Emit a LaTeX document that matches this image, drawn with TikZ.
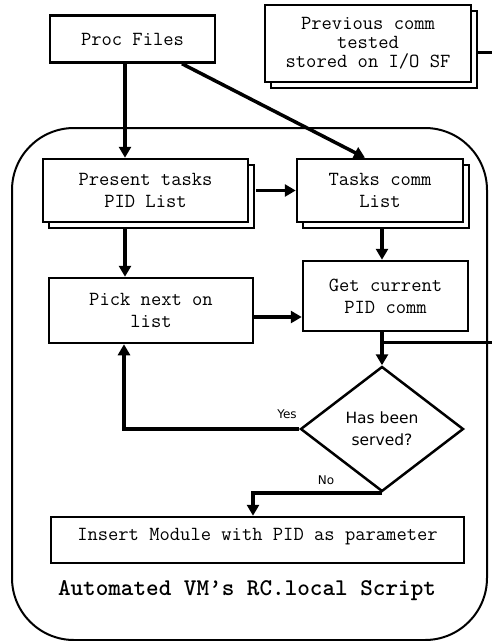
\documentclass[tikz,border=0pt]{standalone}
\usepackage{fontspec}
\newfontfamily\labelfont{DejaVu Sans}
\newfontfamily\boldmono{lmmonolt10-bold.otf}
\usetikzlibrary{shapes.geometric,shadows,arrows.meta}

\begin{document}
\begin{tikzpicture}[x=1pt,y=-1pt,
  box/.style={draw, line width=2.5pt, fill=white, inner sep=0pt, align=center,
    font=\ttfamily\fontsize{20}{22}\selectfont},
  stackbox/.style={box, copy shadow={shadow xshift=6pt, shadow yshift=-6pt, draw, line width=2.5pt, fill=white}},
  flow/.style={line width=3.5pt, -{Triangle[length=11pt,width=12pt]}},
  wire/.style={line width=3pt},
  tag/.style={font=\labelfont\fontsize{12}{14}\selectfont}]
\useasboundingbox (0,0) rectangle (492,641);

% enclosing script frame
\node[draw, line width=2pt, rounded corners=62pt, minimum width=475pt, minimum height=512pt] (vm) at (249.5,384) {};

% process boxes
\node[box, minimum width=165pt, minimum height=47pt] (proc) at (132.5,39) {Proc Files};
\node[stackbox, minimum width=206pt, minimum height=77pt, font=\ttfamily\fontsize{20}{19}\selectfont] (prev) at (368,43.5)
  {Previous comm\\tested\\stored on I/O SF};
\node[stackbox, minimum width=205pt, minimum height=63pt] (present) at (145.5,190.5)
  {Present tasks\\PID List};
\node[stackbox, minimum width=166pt, minimum height=63pt] (tasks) at (380,190.5)
  {Tasks comm\\List};
\node[box, minimum width=165pt, minimum height=70pt] (getpid) at (385.5,296)
  {Get current\\PID comm};
\node[box, minimum width=204pt, minimum height=65pt] (pick) at (151,310.5)
  {Pick next on\\list};
\node[draw, line width=2.5pt, fill=white, diamond, inner sep=0pt, minimum width=163pt, minimum height=125pt,
  align=center, font=\labelfont\fontsize{15.5}{22}\selectfont] (q) at (382,429) {Has been\\served?};
\node[box, minimum width=413pt, minimum height=46pt, text depth=12pt] (insert) at (257.5,540)
  {Insert Module with PID as parameter};
\node[font=\boldmono\fontsize{24}{26}\selectfont] (title) at (247,591)
  {Automated VM’s RC.local Script};

% free ends leaving to the right
\coordinate (eastB) at (495,52);
\coordinate (eastA) at (495,342);

% connectors
\draw[flow] ([xshift=-7.5pt]proc.south) -- ([xshift=-7.5pt]proc.south |- present.north);
\draw[flow] ([xshift=49.5pt]proc.south) -- ([xshift=-15pt]tasks.north);
\draw[flow] (present.east) ++(6.5pt,0) -- (tasks.west);
\draw[flow] ([xshift=-20.5pt,yshift=-6pt]present.south) -- ([xshift=-20.5pt]present.south |- pick.north);
\draw[flow] ([xshift=2pt,yshift=-6pt]tasks.south) -- ([xshift=2pt]tasks.south |- getpid.north);
\draw[flow] ([yshift=-6.5pt]pick.east) -- ([yshift=-6.5pt]pick.east -| getpid.west);
\draw[flow] (getpid.south -| q.north) -- (q.north);
\draw[wire] (q.north |- eastA) -- (eastA);
\draw[wire] (prev.east |- eastB) ++(6pt,0) -- (eastB);
\draw[flow] (q.west) -| ([xshift=-27pt]pick.south);
\draw[flow] (q.south) -| ([xshift=-4.5pt]insert.north);

% branch labels
\node[tag] (yes) at (287,414) {Yes};
\node[tag] (no) at (326,480) {No};
\end{tikzpicture}
\end{document}
